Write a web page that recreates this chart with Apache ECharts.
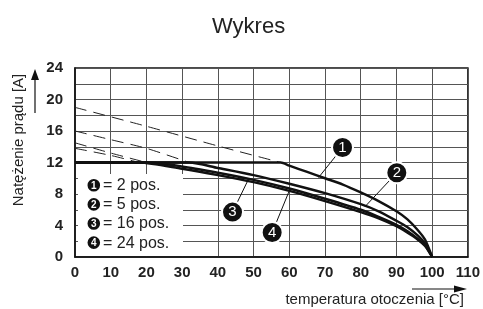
<!DOCTYPE html>
<html><head><meta charset="utf-8">
<script src="https://cdn.jsdelivr.net/npm/echarts@6/dist/echarts.min.js"></script>
<style>html,body{margin:0;padding:0;background:#fff}#c{width:483px;height:309px}</style>
</head><body><div id="c"></div>
<script>
// ---- data ----
var xTicks = [0,10,20,30,40,50,60,70,80,90,100,110];
var yTickLabels = [0,4,8,12,16,20,24];

var t1 = [0, 57.6, 60, 65, 70, 75, 80, 85, 90, 93, 96, 98, 100];
var curve1 = [12, 12, 11.6, 10.8, 10.0, 9.2, 8.2, 7.1, 5.8, 4.8, 3.4, 2.2, 0];
var t2 = [0, 32, 40, 50, 60, 70, 80, 85, 90, 93, 96, 98, 100];
var curve2 = [12, 12, 11.3, 10.4, 9.3, 8.1, 6.7, 5.8, 4.6, 3.8, 2.7, 1.7, 0];
var t3 = [0, 20, 30, 40, 50, 60, 70, 80, 85, 90, 93, 96, 98, 100];
var curve3 = [12, 12, 11.5, 10.7, 9.8, 8.7, 7.4, 6.0, 5.1, 4.1, 3.3, 2.3, 1.5, 0];
var t4 = [0, 18, 30, 40, 50, 60, 70, 80, 85, 90, 93, 96, 98, 100];
var curve4 = [12, 12, 11.2, 10.4, 9.5, 8.4, 7.1, 5.7, 4.9, 3.9, 3.1, 2.2, 1.4, 0];

var tDashA = [0, 20, 40, 57.6];   var dashA = [19, 16.6, 14.1, 12];
var tDashB = [0, 10, 20, 32];     var dashB = [16, 14.9, 13.8, 12];
var tDashC = [0, 10, 20];         var dashC = [14.5, 13.2, 12];
var tDashD = [0, 10, 18];         var dashD = [13.8, 12.9, 12];

var markerLabels = ['1','2','3','4'];
var markerX = [74.9, 90.1, 44.1, 55.2];
var markerY = [13.9, 10.7, 5.7, 3.1];
var pointX = [68.2, 81.2, 48.7, 59.9];
var pointY = [10.1, 6.4, 10.0, 8.3];

var legendNums = ['1','2','3','4'];
var legendTexts = ['= 2 pos.', '= 5 pos.', '= 16 pos.', '= 24 pos.'];

var titleText = 'Wykres';
var yName = 'Natężenie prądu [A]';
var xName = 'temperatura otoczenia [°C]';

// ---- build ----
function pairs(xs, ys){ return xs.map(function(x,i){ return [x, ys[i]]; }); }
var FONT = '"Liberation Sans", Arial, sans-serif';

function solid(name, xs, ys){
  return {type:'line', name:name, data:pairs(xs,ys), symbol:'none', smooth:0.25, z:3,
    lineStyle:{color:'#111', width:2.4}};
}
function dashed(xs, ys){
  return {type:'line', data:pairs(xs,ys), symbol:'none', smooth:0.2, z:3,
    lineStyle:{color:'#222', width:1, type:[12,7]}};
}

var series = [
  dashed(tDashA, dashA), dashed(tDashB, dashB), dashed(tDashC, dashC), dashed(tDashD, dashD),
  solid('2 pos.', t1, curve1), solid('5 pos.', t2, curve2),
  solid('16 pos.', t3, curve3), solid('24 pos.', t4, curve4),
  {type:'lines', coordinateSystem:'cartesian2d', z:4, silent:true,
   lineStyle:{color:'#111', width:1, opacity:1},
   data: markerLabels.map(function(l,i){ return {coords:[[markerX[i],markerY[i]],[pointX[i],pointY[i]]]}; })},
  {type:'scatter', z:5, symbol:'circle', symbolSize:21,
   itemStyle:{color:'#111', borderColor:'#fff', borderWidth:2, opacity:1},
   label:{show:true, position:'inside', color:'#fff', fontFamily:FONT, fontSize:15,
     formatter:function(p){ return markerLabels[p.dataIndex]; }},
   data: pairs(markerX, markerY)}
];

var graphics = [
  {type:'rect', z:1, shape:{x:78, y:174, width:105, height:82}, style:{fill:'#fff'}},
  {type:'text', z:10, style:{text:yName, font:'15px '+FONT, fill:'#222', textAlign:'center', textVerticalAlign:'middle'},
   x:19, y:140, rotation:Math.PI/2},
  {type:'line', z:10, shape:{x1:35, y1:113, x2:35, y2:78}, style:{stroke:'#111', lineWidth:1.2}},
  {type:'polygon', z:10, shape:{points:[[35,69],[31,80],[39,80]]}, style:{fill:'#111'}},
  {type:'text', z:10, style:{text:xName, font:'15px '+FONT, fill:'#222', textAlign:'right', textVerticalAlign:'middle'},
   x:464, y:300},
  {type:'line', z:10, shape:{x1:412, y1:289, x2:456, y2:289}, style:{stroke:'#111', lineWidth:1.2}},
  {type:'polygon', z:10, shape:{points:[[467,289],[454,285.5],[454,292.5]]}, style:{fill:'#111'}}
];
legendTexts.forEach(function(txt, i){
  var cy = 185.3 + i*19.1;
  graphics.push({type:'circle', z:10, shape:{cx:93.8, cy:cy, r:6.3}, style:{fill:'#111'}});
  graphics.push({type:'text', z:11, x:93.8, y:cy+0.5, style:{text:legendNums[i], font:'bold 10px '+FONT, fill:'#fff', textAlign:'center', textVerticalAlign:'middle'}});
  graphics.push({type:'text', z:10, x:103, y:cy+0.5, style:{text:txt, font:'16px '+FONT, fill:'#222', textAlign:'left', textVerticalAlign:'middle'}});
});

var chart = echarts.init(document.getElementById('c'), null, {renderer:'canvas'});
chart.setOption({
  animation:false,
  backgroundColor:'#fff',
  title:{text:titleText, left:207, top:11, textStyle:{fontFamily:FONT, fontSize:22, fontWeight:'normal', color:'#222'}},
  grid:{left:75, right:15, top:68, bottom:52, show:true, borderColor:'#111', borderWidth:1.5, containLabel:false},
  xAxis:{type:'value', min:0, max:110, interval:10,
    axisLine:{show:true, lineStyle:{color:'#111', width:1.5}}, axisTick:{show:false},
    splitLine:{show:true, lineStyle:{color:'#555', width:1}},
    axisLabel:{margin:8, fontFamily:FONT, fontSize:15, fontWeight:'bold', color:'#222',
      formatter:function(v){ return xTicks.indexOf(v) >= 0 ? String(v) : ''; }}},
  yAxis:{type:'value', min:0, max:24, interval:2,
    axisLine:{show:true, lineStyle:{color:'#111', width:1.5}}, axisTick:{show:false},
    splitLine:{show:true, lineStyle:{color:'#555', width:1}},
    axisLabel:{margin:12, fontFamily:FONT, fontSize:15, fontWeight:'bold', color:'#222',
      formatter:function(v){ return yTickLabels.indexOf(v) >= 0 ? String(v) : ''; }}},
  series:series,
  graphic:graphics
});
</script></body></html>
